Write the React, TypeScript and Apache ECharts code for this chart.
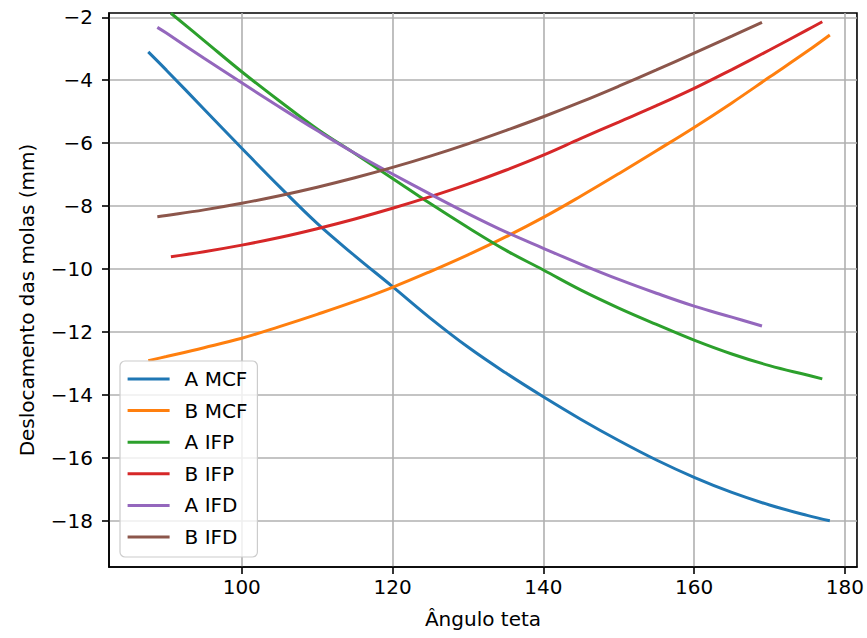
import React, { useEffect, useRef } from "react";
import * as echarts from "echarts";

// Spring displacement (mm) against the angle theta, for the MCF, IFP and IFD cases.
const anglesMCF = [87.6, 90, 95, 100, 105, 110, 115, 120, 125, 130, 135, 140, 145, 150, 155, 160, 165, 170, 175, 178];
const aMCF = [-3.1, -3.68, -4.92, -6.16, -7.38, -8.55, -9.58, -10.56, -11.56, -12.48, -13.3, -14.06, -14.78, -15.45, -16.07, -16.62, -17.1, -17.5, -17.83, -18.0];
const bMCF = [-12.91, -12.78, -12.5, -12.2, -11.83, -11.44, -11.03, -10.58, -10.08, -9.55, -8.98, -8.36, -7.68, -6.97, -6.24, -5.5, -4.72, -3.9, -3.08, -2.56];

const anglesIFP = [90.6, 95, 100, 105, 110, 115, 120, 125, 130, 135, 140, 145, 150, 155, 160, 165, 170, 175, 177];
const aIFP = [-1.87, -2.74, -3.73, -4.66, -5.55, -6.33, -7.12, -7.92, -8.68, -9.4, -10.03, -10.67, -11.24, -11.76, -12.26, -12.7, -13.07, -13.37, -13.49];
const bIFP = [-9.61, -9.45, -9.24, -9.0, -8.72, -8.41, -8.07, -7.7, -7.3, -6.86, -6.38, -5.85, -5.33, -4.81, -4.26, -3.66, -3.04, -2.4, -2.14];

const anglesIFD = [88.8, 90, 95, 100, 105, 110, 115, 120, 125, 130, 135, 140, 145, 150, 155, 160, 165, 169];
const aIFD = [-2.32, -2.5, -3.3, -4.08, -4.85, -5.6, -6.32, -6.98, -7.62, -8.24, -8.82, -9.34, -9.85, -10.33, -10.77, -11.18, -11.53, -11.81];
const bIFD = [-8.34, -8.3, -8.12, -7.91, -7.67, -7.4, -7.1, -6.77, -6.41, -6.02, -5.6, -5.16, -4.69, -4.19, -3.67, -3.14, -2.6, -2.16];

const seriesNames = ["A MCF", "B MCF", "A IFP", "B IFP", "A IFD", "B IFD"];
const seriesColors = ["#1f77b4", "#ff7f0e", "#2ca02c", "#d62728", "#9467bd", "#8c564b"];

const xTicks = [100, 120, 140, 160, 180];
const yTicks = [-18, -16, -14, -12, -10, -8, -6, -4, -2];

const xMin = 82.39;
const xMax = 181.6;
const yMin = -19.47;
const yMax = -1.863;

const FONT = "DejaVu Sans";
const FS = 20;
const LINE_W = 3;

const pair = (xs: number[], ys: number[]) => xs.map((x, i) => [x, ys[i]]);

const fmtMinus = (v: number) => (v < 0 ? "\u2212" + Math.abs(v) : String(v));

export default function App() {
  const ref = useRef<HTMLDivElement>(null);

  useEffect(() => {
    if (!ref.current) return;
    const chart = echarts.init(ref.current, undefined, { renderer: "svg" });

    const curves = [
      pair(anglesMCF, aMCF),
      pair(anglesMCF, bMCF),
      pair(anglesIFP, aIFP),
      pair(anglesIFP, bIFP),
      pair(anglesIFD, aIFD),
      pair(anglesIFD, bIFD),
    ];

    const axisLine = { show: true, lineStyle: { color: "#000", width: 1.6 } };
    const tick = { show: true, length: 7, lineStyle: { color: "#000", width: 1.6 } };
    const split = { show: true, lineStyle: { color: "#b0b0b0", width: 1.6 } };
    const labelStyle = { fontFamily: FONT, fontSize: FS, color: "#000" };

    chart.setOption({
      animation: false,
      backgroundColor: "#fff",
      textStyle: { fontFamily: FONT },
      grid: {
        left: 109,
        right: 10,
        top: 13,
        bottom: 71,
        show: true,
        borderColor: "#000",
        borderWidth: 1.6,
        backgroundColor: "transparent",
        containLabel: false,
      },
      xAxis: {
        type: "value",
        min: xMin,
        max: xMax,
        axisLine,
        axisTick: { ...tick, customValues: xTicks },
        axisLabel: { ...labelStyle, margin: 10, customValues: xTicks, formatter: (v: number) => fmtMinus(v) },
        splitLine: split,
        name: "\u00c2ngulo teta",
        nameLocation: "middle",
        nameGap: 42,
        nameTextStyle: { ...labelStyle },
      },
      yAxis: {
        type: "value",
        min: yMin,
        max: yMax,
        axisLine,
        axisTick: { ...tick, customValues: yTicks },
        axisLabel: { ...labelStyle, margin: 16, customValues: yTicks, formatter: (v: number) => fmtMinus(v) },
        splitLine: split,
        name: "Deslocamento das molas (mm)",
        nameLocation: "middle",
        nameGap: 72,
        nameTextStyle: { ...labelStyle, padding: [0, 20, 0, 0] },
      },
      legend: {
        orient: "vertical",
        left: 120,
        top: 361,
        icon: "rect",
        itemWidth: 42,
        itemHeight: LINE_W,
        itemGap: 11.6,
        padding: [8, 10, 10, 7.6],
        backgroundColor: "rgba(255,255,255,0.8)",
        borderColor: "#cccccc",
        borderWidth: 1.2,
        borderRadius: 5,
        textStyle: { ...labelStyle, padding: [0, 0, 0, 10], lineHeight: 20 },
        data: seriesNames,
      },
      series: curves.map((data, i) => ({
        type: "line",
        name: seriesNames[i],
        data,
        symbol: "none",
        smooth: 0.4,
        clip: true,
        lineStyle: { color: seriesColors[i], width: LINE_W },
        itemStyle: { color: seriesColors[i] },
      })),
    });

    return () => chart.dispose();
  }, []);

  return (
    <div
      ref={ref}
      style={{ position: "fixed", left: 0, top: 0, width: 867, height: 638, background: "#fff" }}
    />
  );
}
